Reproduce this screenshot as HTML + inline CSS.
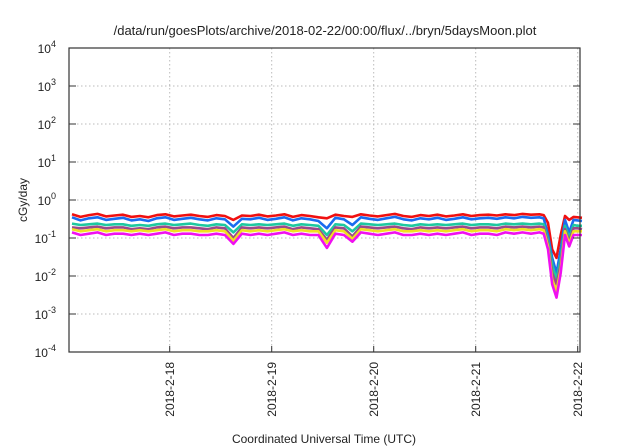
<!DOCTYPE html>
<html><head><meta charset="utf-8"><style>
body{margin:0;background:#fff}
svg{display:block;font-family:"Liberation Sans",sans-serif}
</style></head><body>
<svg id="chart" width="640" height="448">
<text x="325" y="35" text-anchor="middle" font-size="13" fill="#222">/data/run/goesPlots/archive/2018-02-22/00:00/flux/../bryn/5daysMoon.plot</text>
<text transform="translate(27,200) rotate(-90)" text-anchor="middle" font-size="12" fill="#222">cGy/day</text>
<text x="324" y="443" text-anchor="middle" font-size="12" fill="#222">Coordinated Universal Time (UTC)</text>
<g id="grid"></g><g id="series"></g><g id="axes"></g>
</svg>
<script>
const hours=[1,3,5,7,9,11,13,15,17,19,21,23,25,27,29,31,33,35,37,39,41,43,45,47,49,51,53,55,57,59,61,63,65,67,69,71,73,75,77,79,81,83,85,87,89,91,93,95,97,99,101,103,105,107,109,111,112,113,114,115,116,117,118,119,120,121];
const redVals=[0.42,0.36,0.40,0.43,0.37,0.39,0.41,0.36,0.38,0.35,0.40,0.42,0.37,0.39,0.41,0.38,0.36,0.40,0.38,0.30,0.39,0.38,0.41,0.37,0.39,0.42,0.36,0.40,0.38,0.35,0.33,0.41,0.38,0.36,0.42,0.39,0.37,0.40,0.43,0.38,0.36,0.40,0.38,0.41,0.37,0.39,0.42,0.38,0.40,0.41,0.39,0.42,0.40,0.43,0.41,0.42,0.40,0.25,0.05,0.03,0.12,0.38,0.30,0.36,0.35,0.34];
const blueVals=[0.35,0.29,0.33,0.35,0.30,0.32,0.34,0.29,0.31,0.28,0.33,0.35,0.30,0.32,0.34,0.31,0.29,0.33,0.31,0.20,0.32,0.31,0.34,0.30,0.32,0.35,0.29,0.33,0.31,0.28,0.18,0.34,0.31,0.22,0.35,0.32,0.30,0.33,0.36,0.31,0.29,0.33,0.31,0.34,0.30,0.32,0.35,0.31,0.33,0.34,0.32,0.35,0.33,0.36,0.34,0.35,0.33,0.12,0.03,0.012,0.05,0.30,0.14,0.30,0.29,0.28];
const tealVals=[0.24,0.22,0.23,0.24,0.22,0.23,0.23,0.21,0.22,0.21,0.23,0.24,0.22,0.23,0.24,0.22,0.21,0.23,0.22,0.14,0.23,0.22,0.23,0.22,0.23,0.24,0.21,0.23,0.22,0.21,0.12,0.23,0.22,0.15,0.24,0.23,0.22,0.23,0.24,0.22,0.21,0.23,0.22,0.23,0.22,0.23,0.24,0.22,0.23,0.23,0.22,0.24,0.23,0.24,0.23,0.24,0.23,0.09,0.02,0.008,0.03,0.21,0.10,0.22,0.21,0.21];
const purpleVals=[0.19,0.18,0.19,0.20,0.18,0.19,0.19,0.17,0.18,0.17,0.19,0.20,0.18,0.19,0.19,0.18,0.17,0.19,0.18,0.10,0.19,0.18,0.19,0.18,0.19,0.20,0.17,0.19,0.18,0.17,0.09,0.19,0.18,0.11,0.20,0.19,0.18,0.19,0.20,0.18,0.17,0.19,0.18,0.19,0.18,0.19,0.20,0.18,0.19,0.19,0.18,0.20,0.19,0.20,0.19,0.20,0.19,0.07,0.012,0.006,0.02,0.17,0.08,0.18,0.18,0.17];
const yellowVals=[0.17,0.15,0.16,0.17,0.15,0.16,0.16,0.15,0.16,0.15,0.16,0.17,0.15,0.16,0.16,0.15,0.15,0.16,0.15,0.085,0.16,0.15,0.16,0.15,0.16,0.17,0.15,0.16,0.15,0.15,0.075,0.16,0.15,0.095,0.17,0.16,0.15,0.16,0.17,0.15,0.15,0.16,0.15,0.16,0.15,0.16,0.17,0.15,0.16,0.16,0.15,0.17,0.16,0.17,0.16,0.17,0.16,0.06,0.008,0.004,0.015,0.15,0.07,0.15,0.15,0.15];
const magentaVals=[0.14,0.12,0.13,0.14,0.12,0.13,0.13,0.12,0.13,0.12,0.13,0.14,0.12,0.13,0.13,0.12,0.12,0.13,0.12,0.07,0.13,0.12,0.13,0.12,0.13,0.14,0.12,0.13,0.12,0.12,0.055,0.13,0.12,0.08,0.14,0.13,0.12,0.13,0.14,0.12,0.12,0.13,0.12,0.13,0.12,0.13,0.14,0.12,0.13,0.13,0.12,0.14,0.13,0.14,0.13,0.14,0.13,0.05,0.006,0.0027,0.012,0.12,0.06,0.12,0.12,0.12];
const xTickLabels=["2018-2-18","2018-2-19","2018-2-20","2018-2-21","2018-2-22"];
const xTickHours=[24,48,72,96,120];
const yTickExps=[-4,-3,-2,-1,0,1,2,3,4];

const L=69,R=580,T=48,B=352;
const xs=h=>67.7+h*102/24;
const ys=v=>B-(Math.log10(v)+4)*(B-T)/8;
const NS="http://www.w3.org/2000/svg";
function mk(tag,attrs,parent){const e=document.createElementNS(NS,tag);for(const k in attrs)e.setAttribute(k,attrs[k]);parent.appendChild(e);return e;}
const grid=document.getElementById('grid'),axes=document.getElementById('axes'),ser=document.getElementById('series');

yTickExps.forEach(ex=>{
  const y=ys(Math.pow(10,ex));
  if(ex>-4&&ex<4){const g=mk('line',{x1:L,x2:R,y1:y,y2:y,stroke:'#bbb','stroke-dasharray':'1.5,2.5','stroke-width':1},grid);
  
  }
  const t1=mk('line',{x1:L,x2:L+7,y1:y,y2:y,stroke:'#333'},axes);
  
  
  const t2=mk('line',{x1:R-7,x2:R,y1:y,y2:y,stroke:'#333'},axes);
  
  
  const tx=mk('text',{x:56,y:y+5,'text-anchor':'end','font-size':12,fill:'#222'},axes);
  
  
  tx.textContent='10';
  const sp=mk('tspan',{dy:-6,'font-size':9},tx);sp.textContent=String(ex);
});
xTickHours.forEach((h,i)=>{
  const x=xs(h);
  const g=mk('line',{x1:x,x2:x,y1:T,y2:B,stroke:'#bbb','stroke-dasharray':'1.5,2.5'},grid);
  
  
  const t=mk('line',{x1:x,x2:x,y1:B-6,y2:B,stroke:'#333'},axes);
  
  
  const tx=mk('text',{transform:`translate(${x+4.5},${B+10}) rotate(-90)`,'text-anchor':'end','font-size':12,fill:'#222'},axes);
  
  
  tx.textContent=xTickLabels[i];
});
const frame=mk('rect',{x:L,y:T,width:R-L,height:B-T,fill:'none',stroke:'#333','stroke-width':1.2},axes);



const seriesList=[["red",redVals,"#f01010"],["blue",blueVals,"#1a6cf0"],["teal",tealVals,"#1ec8a0"],["purple",purpleVals,"#9a4a8a"],["yellow",yellowVals,"#f0e020"],["magenta",magentaVals,"#f010f0"]];
seriesList.forEach(([n,vals,c])=>{
  const d=vals.map((v,i)=>(i?'L':'M')+xs(hours[i]).toFixed(1)+','+ys(v).toFixed(1)).join('');
  const p=mk('path',{d:d,fill:'none',stroke:c,'stroke-width':2.6,'stroke-linejoin':'round'},ser);
  
  
});
</script>
</body></html>
